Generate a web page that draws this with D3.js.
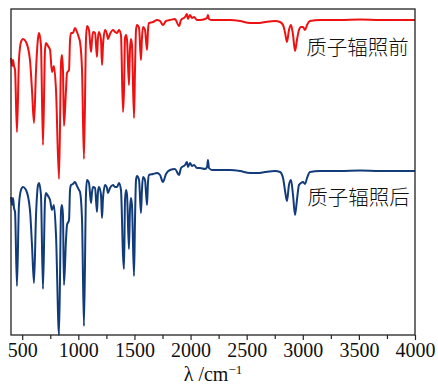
<!DOCTYPE html>
<html><head><meta charset="utf-8">
<script src="https://cdn.jsdelivr.net/npm/d3@7"></script>
<style>body{margin:0;background:#fff;}svg{display:block;}</style>
</head><body>
<svg id="c" width="438" height="385"></svg>
<script>
// wavenumbers (cm^-1) and relative transmittance (a.u., offset)
const redWn = [400,409,418,427,436,453,471,489,507,534,569,587,605,623,641,650,667,685,703,712,730,748,765,783,801,828,846,854,863,872,890,899,917,926,935,952,970,988,1006,1015,1033,1050,1068,1077,1095,1113,1122,1131,1149,1166,1175,1184,1202,1211,1220,1238,1255,1264,1282,1309,1327,1345,1362,1380,1398,1407,1416,1425,1434,1451,1460,1469,1478,1496,1505,1514,1523,1541,1558,1567,1576,1594,1612,1621,1630,1665,1701,1728,1754,1781,1817,1861,1897,1915,1951,1968,1977,1995,2013,2031,2057,2084,2129,2147,2155,2164,2191,2262,2351,2441,2530,2601,2663,2753,2797,2824,2841,2859,2877,2895,2913,2931,2948,2966,2984,3002,3020,3038,3064,3154,3332,3510,3688,3866,4000];
const redT = [138.5,134.5,137.5,134.5,132.5,101.5,137.5,146.5,148,146.5,137.5,122.5,106,132.5,148.5,151,145,95,142.5,146,144.5,142.5,131.5,134.5,122.5,78,136.5,140,132.5,104.5,122.5,131,132.5,147.5,151,151,153.5,151.5,148.5,146.5,132.5,88,147.5,154.5,152.5,141.5,147.5,151.5,151,139,148.5,151.5,147.5,135,145,152.5,150.5,148,150.5,152.5,151.5,151,152.5,150,111.5,122.5,148.5,150,147.5,125,142.5,148,145,108.5,132.5,152.5,155,153.5,137.5,148.5,154,152.5,142.5,152.5,156,156.5,157.5,157,155,157,157.5,158,154.5,157.5,159,160.5,158,160,158.5,159,157.5,157.5,158,158.5,160,158,157.5,157.5,157.5,157,156,156,156.5,157,156.5,155,151.5,146.5,152.5,155,150,142,147.5,152.5,154,154,152.5,155,157,157.5,157.5,157.75,157.5,157.5,157.5];
const blueWn = redWn;
const blueT = [69,65,68.5,63.5,61.5,24.5,65,72.5,74,72.5,62.5,45,26,60,75,76,70,23,67.5,71,69.5,67.5,62.5,65,50,0,62.5,65,60,25,47.5,55,57.5,72.5,75,75.5,76.5,74.5,72.5,71.5,57.5,4.5,70,77.5,76,66,71.5,74,73.5,61.5,71.5,74,70,58.5,68.5,75,73.5,71,73.5,75,74,74,76,72.5,40,33,67.5,72.5,70,43,62.5,68.5,65,29.5,57.5,77.5,79.5,77.5,61,72.5,79,77.5,65,76.5,80,80.5,81,80,76.5,80.5,82.5,83,80,83.5,85,86.5,84,86,84.5,85,83.5,83.5,83,84,87.5,83.5,82.5,82.5,82.5,82,81,81,81.5,82,81.5,78.5,72.5,67,75,77.5,70,60,67.5,75,76,76.5,75.5,78.5,81.5,82,82,82.25,82,82,82];
const majorTicks = [500,1000,1500,2000,2500,3000,3500,4000];
const minorTicks = [750,1250,1750,2250,2750,3250,3750];
const seriesNames = ["质子辐照前","质子辐照后"];
const seriesColors = ["#ee1111","#123b7a"];

const svg = d3.select("#c");
const m = {l:11, r:23, t:9, b:50};
const W = 438, H = 385;
const x = d3.scaleLinear().domain([400,4000]).range([m.l, W - m.r]);
const y = d3.scaleLinear().domain([0,163]).range([H - m.b, m.t]);

const line = d3.line().x(d => x(d[0])).y(d => y(d[1])).curve(d3.curveMonotoneX);
const series = [d3.zip(redWn, redT), d3.zip(blueWn, blueT)];

svg.selectAll("path.s").data(series).enter().append("path")
  .attr("class","s").attr("d", line).attr("fill","none")
  .attr("stroke",(d,i)=>seriesColors[i]).attr("stroke-width",2)
  .attr("stroke-linejoin","round");

// frame
svg.append("rect").attr("x",m.l).attr("y",m.t).attr("width",W-m.r-m.l).attr("height",H-m.b-m.t)
  .attr("fill","none").attr("stroke","#222").attr("stroke-width",1.3);

// axis
const ax = svg.append("g").attr("transform",`translate(0,${H-m.b})`)
  .call(d3.axisBottom(x).tickValues(majorTicks).tickSize(5).tickPadding(3).tickFormat(d3.format("d")));
ax.select(".domain").remove();
ax.selectAll("text").attr("font-family","'Liberation Serif','Times New Roman',serif").attr("font-size",20).attr("fill","#111");
ax.selectAll("line").attr("stroke","#222").attr("stroke-width",1.2);
svg.append("g").attr("transform",`translate(0,${H-m.b})`)
  .call(d3.axisBottom(x).tickValues(minorTicks).tickSize(4).tickFormat(""))
  .call(g=>g.select(".domain").remove())
  .selectAll("line").attr("stroke","#222").attr("stroke-width",1.2);

svg.append("text").attr("x",(m.l+W-m.r)/2).attr("y",381)
  .attr("text-anchor","middle").attr("font-family","'Liberation Serif','Times New Roman',serif")
  .attr("font-size",20).attr("fill","#111")
  .html("λ /cm<tspan dy='-7' font-size='13'>−1</tspan>");

// series labels
const labelPos = [[3030,140],[3040,65]];
svg.selectAll("text.lab").data(seriesNames).enter().append("text")
  .attr("class","lab").attr("x",(d,i)=>x(labelPos[i][0])).attr("y",(d,i)=>y(labelPos[i][1]))
  .attr("font-family","'Noto Sans CJK SC',sans-serif").attr("font-weight",300)
  .attr("font-size",20.5).attr("fill","#111").text(d=>d);
</script>
</body></html>
